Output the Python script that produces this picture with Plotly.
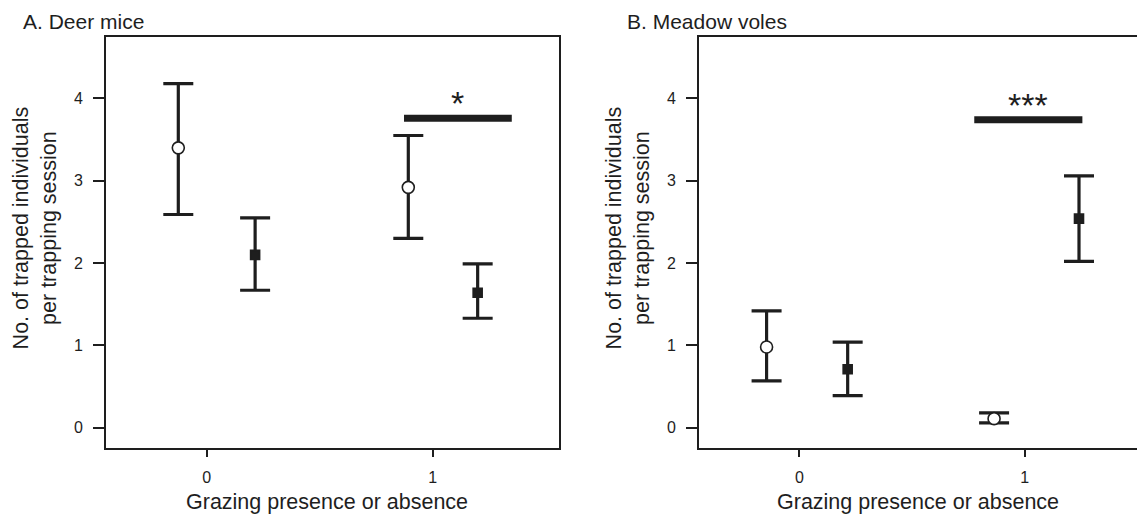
import plotly.graph_objects as go

# ---------------- data ----------------
groups = [0, 1]
tick_labels = ["0", "1"]
y_ticks = [0, 1, 2, 3, 4]

# Panel A: Deer mice (open circle / filled square series)
deer_open_mean = [3.40, 2.92]
deer_open_upper = [4.18, 3.55]
deer_open_lower = [2.59, 2.30]
deer_filled_mean = [2.10, 1.64]
deer_filled_upper = [2.55, 1.99]
deer_filled_lower = [1.67, 1.33]

# Panel B: Meadow voles
vole_open_mean = [0.98, 0.11]
vole_open_upper = [1.42, 0.18]
vole_open_lower = [0.57, 0.06]
vole_filled_mean = [0.71, 2.54]
vole_filled_upper = [1.04, 3.06]
vole_filled_lower = [0.39, 2.02]

panel_titles = ["A. Deer mice", "B. Meadow voles"]
sig_labels = ["*", "***"]
sig_level = [3.76, 3.74]
x_title = "Grazing presence or absence"
y_title = "No. of trapped individuals<br>per trapping session"

# ---------------- style ----------------
INK = "#1e1e1e"
FONT = "Liberation Sans, Arial, sans-serif"
dodge = {
    "A": {"open": [-0.126, -0.108], "filled": [0.214, 0.199]},
    "B": {"open": [-0.146, -0.136], "filled": [0.214, 0.241]},
}
sig_span = {"A": (0.873, 1.350), "B": (0.776, 1.256)}

# the page body has an 8px margin: figure is sized to fill the rest of the window
PAGE_MARGIN = 8
W, H = 1145 - PAGE_MARGIN, 518 - PAGE_MARGIN


def px(x):
    return (x - PAGE_MARGIN) / W


def py(y):
    return 1 - (y - PAGE_MARGIN) / H


fig = go.Figure()


def add_series(xaxis, yaxis, offs, mean, upper, lower, symbol, fill, size):
    xs = [g + o for g, o in zip(groups, offs)]
    fig.add_trace(go.Scatter(
        x=xs, y=mean, mode="markers", xaxis=xaxis, yaxis=yaxis,
        marker=dict(symbol=symbol, size=size, color=fill,
                    line=dict(color=INK, width=1.6)),
        error_y=dict(type="data", symmetric=False,
                     array=[u - m for u, m in zip(upper, mean)],
                     arrayminus=[m - l for m, l in zip(mean, lower)],
                     color=INK, thickness=3.2, width=15),
        showlegend=False, cliponaxis=False,
    ))


add_series("x", "y", dodge["A"]["open"], deer_open_mean, deer_open_upper,
           deer_open_lower, "circle", "white", 12)
add_series("x", "y", dodge["A"]["filled"], deer_filled_mean, deer_filled_upper,
           deer_filled_lower, "square", INK, 9)
add_series("x2", "y2", dodge["B"]["open"], vole_open_mean, vole_open_upper,
           vole_open_lower, "circle", "white", 12)
add_series("x2", "y2", dodge["B"]["filled"], vole_filled_mean, vole_filled_upper,
           vole_filled_lower, "square", INK, 9)

ydom = [py(448.3), py(36.7)]
yrange = [-0.25, 4.75]

common_x = dict(
    tickmode="array", tickvals=groups, ticktext=tick_labels,
    ticks="outside", ticklen=7, tickwidth=2, tickcolor=INK,
    showline=True, linecolor=INK, linewidth=2, mirror=True,
    showgrid=False, zeroline=False, automargin=False,
    tickfont=dict(size=16, color=INK, family=FONT),
    ticklabelstandoff=6,
)
common_y = dict(
    tickmode="array", tickvals=y_ticks,
    ticks="outside", ticklen=11, tickwidth=2, tickcolor=INK,
    showline=True, linecolor=INK, linewidth=2,
    showgrid=False, zeroline=False, automargin=False, range=yrange,
    tickfont=dict(size=16, color=INK, family=FONT),
    ticklabelstandoff=7,
)

fig.update_layout(
    width=W, height=H,
    margin=dict(l=0, r=0, t=0, b=0),
    paper_bgcolor="white", plot_bgcolor="white",
    font=dict(family=FONT, color=INK),
    xaxis=dict(domain=[px(106), px(559)], range=[-0.446, 1.559], anchor="y", **common_x),
    yaxis=dict(domain=ydom, anchor="x", mirror=True, **common_y),
    xaxis2=dict(domain=[px(699), 1.0], range=[-0.446, 1.534], anchor="y2", **common_x),
    yaxis2=dict(domain=ydom, anchor="x2", mirror=False, **common_y),
)

# significance bars and stars
for key, xr, yr, label, level in [("A", "x", "y", sig_labels[0], sig_level[0]),
                                  ("B", "x2", "y2", sig_labels[1], sig_level[1])]:
    x0, x1 = sig_span[key]
    fig.add_shape(type="line", xref=xr, yref=yr, x0=x0, x1=x1, y0=level, y1=level,
                  line=dict(color=INK, width=7))
    fig.add_annotation(xref=xr, yref=yr, x=(x0 + x1) / 2, y=level, text=label,
                       showarrow=False, yanchor="bottom", yshift=-6,
                       font=dict(size=34, color=INK, family=FONT))

# panel titles
for title, xpos in zip(panel_titles, [20.7, 625]):
    fig.add_annotation(xref="paper", yref="paper", x=px(xpos), y=1.0,
                       xanchor="left", yanchor="top", text=title,
                       showarrow=False, font=dict(size=21, color=INK, family=FONT))

# axis titles (placed as paper annotations)
for xc in [327, 918]:
    fig.add_annotation(xref="paper", yref="paper", x=px(xc), y=py(516),
                       xanchor="center", yanchor="bottom", text=x_title,
                       showarrow=False, font=dict(size=21.5, color=INK, family=FONT))
for xc in [35.4, 628.4]:
    fig.add_annotation(xref="paper", yref="paper", x=px(xc), y=py(228),
                       xanchor="center", yanchor="middle", text=y_title, textangle=-90,
                       showarrow=False, font=dict(size=21.5, color=INK, family=FONT))

fig.write_html("out.html")
